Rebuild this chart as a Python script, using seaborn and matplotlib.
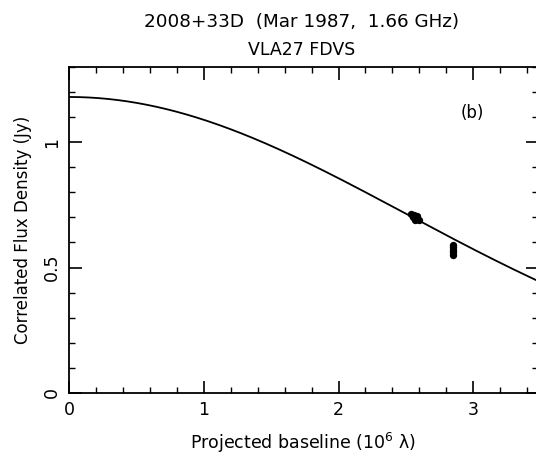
import numpy as np
import pandas as pd
import matplotlib
matplotlib.use("Agg")
import matplotlib.pyplot as plt
from matplotlib.ticker import MultipleLocator
import seaborn as sns

sns.set_theme(style="white")
plt.rcParams["font.family"] = ["DejaVu Sans"]
plt.rcParams["mathtext.fontset"] = "dejavusans"
plt.rcParams["text.color"] = "black"
plt.rcParams["axes.labelcolor"] = "black"

# Measured correlated flux densities
baseline = [2.54, 2.55, 2.56, 2.57, 2.58, 2.60, 2.85, 2.85, 2.85, 2.85, 2.85]
flux = [0.715, 0.700, 0.710, 0.690, 0.705, 0.690, 0.590, 0.580, 0.570, 0.560, 0.550]

# Gaussian source model: peak flux (Jy) and 1/e baseline (10^6 lambda)
peak_flux = 1.18
width = 3.53

x_ticks = [0, 1, 2, 3]
y_ticks = [0, 0.5, 1]
y_tick_labels = ["0", "0.5", "1"]

u = np.linspace(0, 3.6, 300)
model = pd.DataFrame({"u": u, "S": peak_flux * np.exp(-(u / width) ** 2)})
obs = pd.DataFrame({"u": baseline, "S": flux})

fig = plt.figure(figsize=(5.36, 4.58), dpi=100)
ax = fig.add_axes([0.1287, 0.142, 0.875, 0.712])

sns.lineplot(data=model, x="u", y="S", color="black", linewidth=1.3, ax=ax)
sns.scatterplot(data=obs, x="u", y="S", color="black", s=28, edgecolor="black",
                linewidth=0, ax=ax, zorder=3)

ax.set_xlim(0, 3.48)
ax.set_ylim(0, 1.3)
ax.set_xticks(x_ticks)
ax.set_yticks(y_ticks)
ax.set_yticklabels(y_tick_labels, rotation=90, va="center")
ax.xaxis.set_minor_locator(MultipleLocator(0.2))
ax.yaxis.set_minor_locator(MultipleLocator(0.1))
ax.tick_params(which="both", direction="in", top=True, right=True,
               bottom=True, left=True, colors="black", labelsize=12.5)
ax.tick_params(which="major", length=9, width=1.2, pad=6)
ax.tick_params(which="minor", length=4.5, width=1.0)
for s in ax.spines.values():
    s.set_color("black")
    s.set_linewidth(1.3)

ax.set_xlabel("Projected baseline (10$^6$ λ)", fontsize=12.5, labelpad=8, color="black")
ax.set_ylabel("Correlated Flux Density (Jy)", fontsize=12, labelpad=8, color="black")
ax.text(0.86, 0.86, "(b)", transform=ax.transAxes, fontsize=12, ha="center", va="center",
        color="black")

fig.text(0.563, 0.952, "2008+33D  (Mar 1987,  1.66 GHz)", fontsize=13.2, ha="center",
         va="center", color="black")
fig.text(0.563, 0.891, "VLA27 FDVS", fontsize=12.5, ha="center", va="center", color="black")

fig.savefig("out.png", dpi=100)
